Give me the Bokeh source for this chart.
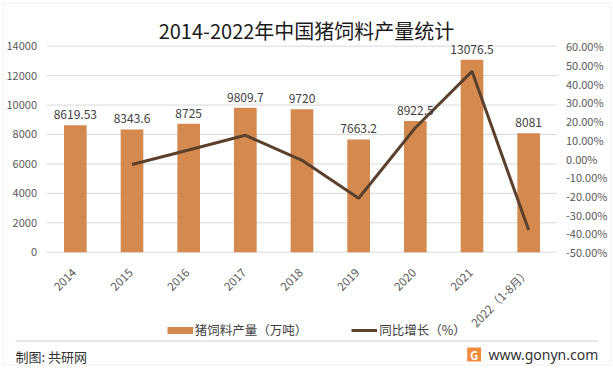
from bokeh.plotting import figure
from bokeh.models import (Range1d, ColumnDataSource, LabelSet, Label, Legend, LegendItem,
                          BoxAnnotation)
from bokeh.core.properties import value
from bokeh.embed import file_html
from bokeh.resources import INLINE
import math

years = ["2014", "2015", "2016", "2017", "2018", "2019", "2020", "2021", "2022（1-8月）"]
output = [8619.53, 8343.6, 8725, 9809.7, 9720, 7663.2, 8922.5, 13076.5, 8081]
growth = [None, -3.2, 4.57, 12.43, -0.91, -21.16, 16.43, 46.56, -38.2]
left_ticks = [0, 2000, 4000, 6000, 8000, 10000, 12000, 14000]
right_ticks = [-50, -40, -30, -20, -10, 0, 10, 20, 30, 40, 50, 60]

FONT = "Noto Sans CJK SC"
BAR = "#D48A4E"
LINE = "#5B412C"
TICK = "#595959"

# canvas / plot-area geometry (pixels)
W, H = 613, 369
PL, PR, PT, PB = 46.5, 556.5, 45.7, 251.7   # plot area left/right/top/bottom

n = len(years)
idx = list(range(n))
cell = (PR - PL) / n
x0 = -0.5 - PL / cell
x_range = Range1d(x0, x0 + W / cell)

lo, hi = left_ticks[0], left_ticks[-1]
upp = (hi - lo) / (PB - PT)
y_range = Range1d(lo - (H - PB) * upp, hi + PT * upp)
plo, phi = right_ticks[0], right_ticks[-1]
pupp = (phi - plo) / (PB - PT)
pct_range = Range1d(plo - (H - PB) * pupp, phi + PT * pupp)

p = figure(x_range=x_range, y_range=y_range, width=W, height=H,
           output_backend="svg", toolbar_location=None,
           x_axis_location=None, y_axis_location=None, min_border=0)
p.extra_y_ranges = {"pct": pct_range}
p.outline_line_color = None
p.grid.grid_line_color = None
p.background_fill_color = "white"
p.border_fill_color = "white"

# gridlines at the left-axis ticks
p.segment(x0=[-0.5] * len(left_ticks), x1=[n - 0.5] * len(left_ticks),
          y0=left_ticks, y1=left_ticks, line_color="#D9D9D9", line_width=1)

src = ColumnDataSource(dict(x=idx, year=years, output=output,
                            label=[f"{v:g}" for v in output]))
p.vbar(x="x", top="output", width=0.4, source=src, fill_color=BAR, line_color=None)

g_x = [i for i, g in zip(idx, growth) if g is not None]
g_vals = [g for g in growth if g is not None]
gline = p.line(x=g_x, y=g_vals, y_range_name="pct", line_color=LINE, line_width=3)

# legend proxy for the bar series (not drawn)
proxy_bar = p.line(x=idx, y=output, line_color=BAR, line_width=7, visible=False)

# value labels
p.add_layout(LabelSet(x="x", y="output", text="label", source=src, y_offset=6,
                      text_align="center", text_baseline="bottom",
                      text_font=value(FONT), text_font_size="12px", text_color="#404040"))

# category labels (rotated)
p.add_layout(LabelSet(x="x", y=0, text="year", source=src, angle=math.pi / 4,
                      x_offset=-1.5, y_offset=-18, text_align="right", text_baseline="middle",
                      text_font=value(FONT), text_font_size="11.5px", text_color=TICK))

# left tick labels
lsrc = ColumnDataSource(dict(y=left_ticks, t=[str(t) for t in left_ticks]))
p.add_layout(LabelSet(x=-0.5, y="y", text="t", source=lsrc, x_offset=-10,
                      text_align="right", text_baseline="middle",
                      text_font=value(FONT), text_font_size="11px", text_color=TICK))
# right tick labels
rsrc = ColumnDataSource(dict(y=right_ticks, t=[f"{t:.2f}%" for t in right_ticks]))
p.add_layout(LabelSet(x=n - 0.5, y="y", text="t", source=rsrc, y_range_name="pct",
                      x_offset=9, text_align="left", text_baseline="middle",
                      text_font=value(FONT), text_font_size="11px", text_color=TICK))

# title
p.add_layout(Label(x=306, y=H - 30, x_units="screen", y_units="screen",
                   text="2014-2022年中国猪饲料产量统计", text_align="center",
                   text_baseline="middle", text_font=FONT, text_font_size="20px",
                   text_color="#1A1A1A"))

# legend
legend = Legend(items=[LegendItem(label="猪饲料产量（万吨）", renderers=[proxy_bar]),
                       LegendItem(label="同比增长（%）", renderers=[gline])],
                orientation="horizontal", location=(166.7, H - 331 - 8),
                glyph_width=26, glyph_height=16, label_height=16, label_standoff=2,
                spacing=44, padding=0, margin=0, border_line_color=None,
                background_fill_alpha=0, label_text_font=FONT,
                label_text_font_size="12.5px", label_text_color="#404040")
p.add_layout(legend)

# footer
p.add_layout(BoxAnnotation(left=15, right=598, top=H - 340, bottom=H - 341,
                           left_units="screen", right_units="screen",
                           top_units="screen", bottom_units="screen",
                           fill_color="#D0D0D0", fill_alpha=1, line_color=None))
p.add_layout(Label(x=15, y=H - 356, x_units="screen", y_units="screen",
                   text="制图: 共研网", text_align="left", text_baseline="middle",
                   text_font=FONT, text_font_size="13px", text_color="#333333"))
p.add_layout(BoxAnnotation(left=466.7, right=480.5, top=H - 347, bottom=H - 361,
                           left_units="screen", right_units="screen",
                           top_units="screen", bottom_units="screen",
                           fill_color="#F08A3C", fill_alpha=1, line_color=None))
p.add_layout(Label(x=473.6, y=H - 354, x_units="screen", y_units="screen",
                   text="G", text_align="center", text_baseline="middle",
                   text_font=FONT, text_font_size="11px", text_font_style="bold",
                   text_color="white"))
p.add_layout(Label(x=488, y=H - 354, x_units="screen", y_units="screen",
                   text="www.gonyn.com", text_align="left", text_baseline="middle",
                   text_font="Noto Sans", text_font_size="14px", text_color="#333333"))

# outer frame
p.add_layout(BoxAnnotation(left=2.5, right=610.5, top=H - 2.5, bottom=H - 364.5,
                           left_units="screen", right_units="screen",
                           top_units="screen", bottom_units="screen",
                           fill_alpha=0, line_color="#D0D0D0", line_width=1))

open("out.html", "w").write(file_html(p, INLINE))
